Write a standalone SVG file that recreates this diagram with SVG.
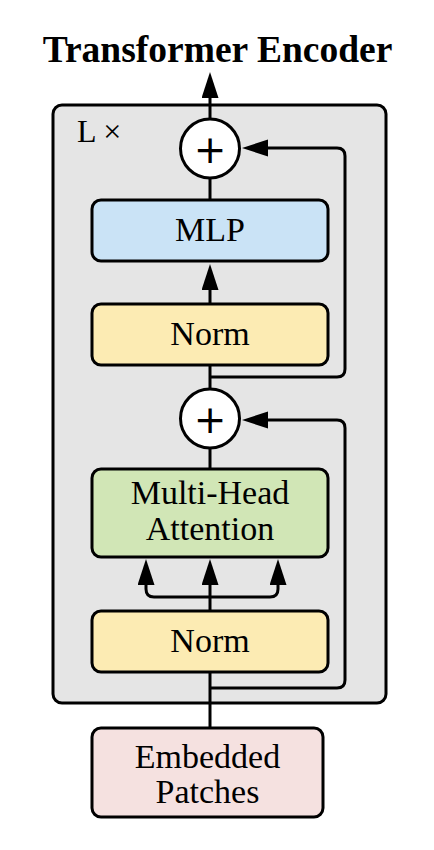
<svg xmlns="http://www.w3.org/2000/svg" width="434" height="850" viewBox="0 0 434 850">
<style>
.box{stroke:#000;stroke-width:3}
.lbl{font-family:"Liberation Serif","Times New Roman",serif;font-size:34px;text-anchor:middle;fill:#000}
.ln{fill:none;stroke:#000;stroke-width:3}
.arr{fill:none;stroke:#000;stroke-width:3;marker-end:url(#ah)}
.add{fill:#fff;stroke:#000;stroke-width:3}
.plus{font-family:"DejaVu Sans",sans-serif;font-size:39px;text-anchor:middle;fill:#000}
</style>
<defs>
<marker id="ah" markerUnits="userSpaceOnUse" markerWidth="26" markerHeight="18" refX="2" refY="8.5" orient="auto">
<path d="M0,0 L26,8.5 L0,17 z" fill="#000"/>
</marker>
</defs>
<rect width="434" height="850" fill="#fff"/>
<g id="title"><text x="217.5" y="62" style="font-family:'Liberation Serif','Times New Roman',serif;font-size:37.5px;font-weight:bold;text-anchor:middle">Transformer Encoder</text></g>
<g id="encoder-block">
<rect x="53" y="105" width="333" height="598" rx="9" fill="#e5e5e5" class="box"/>
<text x="77" y="142" style="font-family:'Liberation Serif','Times New Roman',serif;font-size:32px">L ×</text>
</g>
<g id="connectors">
<path class="arr" d="M210,119 V96"/>
<path class="ln" d="M210,178 V200"/>
<path class="arr" d="M210,304 V288"/>
<path class="ln" d="M210,365 V389"/>
<path class="ln" d="M210,448 V469"/>
<path class="arr" d="M210,377 H337 Q345,377 345,369 V156 Q345,148 337,148 H266"/>
<path class="arr" d="M210,688 H337 Q345,688 345,680 V428 Q345,420 337,420 H266"/>
<path class="arr" d="M210,611 V583"/>
<path class="arr" d="M210,597 H154 Q146,597 146,589 V583"/>
<path class="arr" d="M210,597 H270 Q278,597 278,589 V583"/>
<path class="ln" d="M210,728 V672"/>
</g>
<g id="add-top">
<circle cx="210" cy="148.5" r="29.5" class="add"/>
<text x="210" y="162.5" class="plus">+</text>
</g>
<g id="mlp">
<rect x="92" y="200" width="236" height="61" rx="9" fill="#cae3f6" class="box"/>
<text x="210" y="241" class="lbl">MLP</text>
</g>
<g id="norm-top">
<rect x="92" y="304" width="236" height="61" rx="9" fill="#fcebb3" class="box"/>
<text x="210" y="345" class="lbl">Norm</text>
</g>
<g id="add-bottom">
<circle cx="210" cy="418.5" r="29.5" class="add"/>
<text x="210" y="432.5" class="plus">+</text>
</g>
<g id="attention">
<rect x="92" y="469" width="236" height="88" rx="9" fill="#d1e6b6" class="box"/>
<text x="210" y="504" class="lbl">Multi-Head</text>
<text x="210" y="540" class="lbl">Attention</text>
</g>
<g id="norm-bottom">
<rect x="92" y="611" width="236" height="61" rx="9" fill="#fcebb3" class="box"/>
<text x="210" y="652" class="lbl">Norm</text>
</g>
<g id="embedded">
<rect x="92" y="728" width="231" height="89" rx="9" fill="#f5e1e0" class="box"/>
<text x="207.5" y="768" class="lbl">Embedded</text>
<text x="207.5" y="803" class="lbl">Patches</text>
</g>
</svg>
